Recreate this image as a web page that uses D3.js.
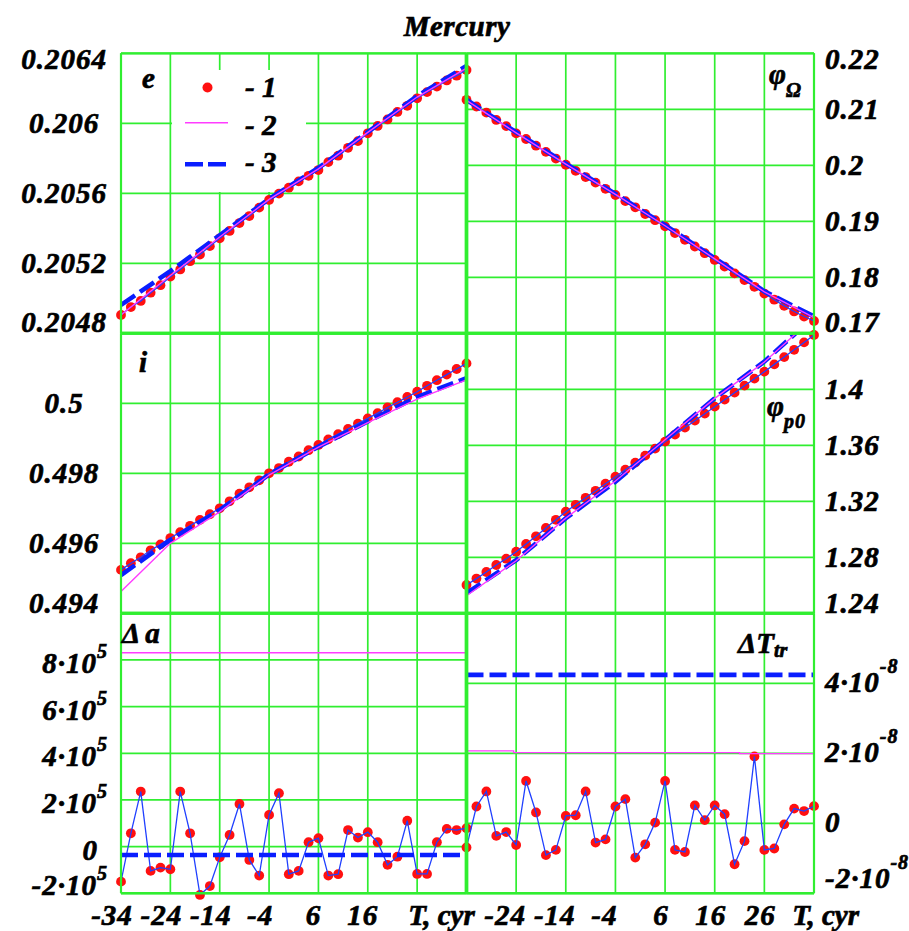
<!DOCTYPE html>
<html><head><meta charset="utf-8">
<script src="https://cdn.jsdelivr.net/npm/d3@7/dist/d3.min.js"></script>
<style>
html,body{margin:0;padding:0;background:#fff;}
svg{display:block;}
text{font-family:"Liberation Serif","Times New Roman",serif;font-weight:bold;font-style:italic;fill:#000;stroke:#000;stroke-width:0.7px;}
</style></head><body>
<svg id="chart" width="909" height="931"></svg>
<script>
// ---------------- data ----------------
const title = "Mercury";
const years = [-34,-32,-30,-28,-26,-24,-22,-20,-18,-16,-14,-12,-10,-8,-6,-4,-2,0,2,4,6,8,10,12,14,16,18,20,22,24,26,28,30,32,34,36];
const years10 = [-34,-24,-14,-4,6,16,26,36];

// eccentricity e
const e1 = [0.204905,0.204950,0.204985,0.205032,0.205075,0.205124,0.205165,0.205212,0.205250,0.205298,0.205343,0.205385,0.205430,0.205470,0.205518,0.205562,0.205598,0.205632,0.205668,0.205700,0.205733,0.205778,0.205815,0.205860,0.205898,0.205943,0.205985,0.206022,0.206065,0.206100,0.206143,0.206178,0.206210,0.206245,0.206272,0.206305];
const e2 = [0.204905,0.205130,0.205350,0.205565,0.205740,0.205948,0.206150,0.206315];
const e3 = [0.204962,0.205155,0.205360,0.205568,0.205745,0.205950,0.206155,0.206328];

// phi_Omega
const om1 = [0.2117,0.2105,0.2094,0.2081,0.2070,0.2057,0.2047,0.2035,0.2024,0.2012,0.2001,0.1990,0.1979,0.1969,0.1958,0.1947,0.1936,0.1925,0.1913,0.1902,0.1891,0.1879,0.1867,0.1855,0.1843,0.1831,0.1819,0.1807,0.1795,0.1783,0.1771,0.1760,0.1749,0.1739,0.1730,0.1722];
const om2 = [0.2116,0.2058,0.2002,0.1948,0.1892,0.1833,0.1774,0.1728];
const om3 = [0.2117,0.2059,0.2003,0.1949,0.1893,0.1834,0.1775,0.1730];

// inclination i
const i1 = [0.49524,0.49543,0.49560,0.49580,0.49597,0.49615,0.49632,0.49650,0.49667,0.49683,0.49700,0.49720,0.49742,0.49760,0.49780,0.49800,0.49815,0.49833,0.49848,0.49866,0.49881,0.49897,0.49912,0.49927,0.49942,0.49957,0.49972,0.49988,0.50003,0.50018,0.50033,0.50050,0.50066,0.50082,0.50098,0.50114];
const i2 = [0.49462,0.49600,0.49690,0.49795,0.49875,0.49945,0.50012,0.50067];
const i3 = [0.49509,0.49610,0.49695,0.49797,0.49876,0.49948,0.50018,0.50072];

// phi_p0
const p1 = [1.2602,1.2648,1.2695,1.2745,1.2790,1.2840,1.2895,1.2950,1.3010,1.3068,1.3126,1.3175,1.3225,1.3275,1.3326,1.3376,1.3426,1.3476,1.3526,1.3576,1.3626,1.3676,1.3726,1.3776,1.3826,1.3876,1.3926,1.3976,1.4026,1.4076,1.4126,1.4178,1.4230,1.4282,1.4335,1.4388];
const p2 = [1.2525,1.2775,1.3080,1.3345,1.3640,1.3935,1.4195,1.4515];
const p3 = [1.2543,1.2780,1.3079,1.3340,1.3638,1.3936,1.4198,1.4520];

// Delta a
const da1 = [-150000,57000,236000,-104000,-90000,-97000,236000,57000,-207000,-169000,-46000,50000,183000,-57000,-124000,136000,229000,-118000,-104000,19000,36000,-124000,-118000,71000,39000,62000,19000,-78000,-43000,111000,-117000,-117000,19000,76000,71000,79000];
const da2 = [831000,831000,831000,831000,831000,831000,831000,831000];
const da3 = [-35700,-35700,-35700,-35700,-35700,-35700,-35700,-35700];

// Delta T_tr
const dt1 = [-0.69e-8,0.48e-8,0.91e-8,-0.36e-8,-0.25e-8,-0.62e-8,1.21e-8,0.31e-8,-0.91e-8,-0.76e-8,0.21e-8,0.23e-8,0.91e-8,-0.55e-8,-0.46e-8,0.48e-8,0.69e-8,-0.98e-8,-0.60e-8,0.02e-8,1.21e-8,-0.76e-8,-0.82e-8,0.51e-8,0.09e-8,0.51e-8,0.26e-8,-1.17e-8,-0.51e-8,1.91e-8,-0.76e-8,-0.72e-8,-0.03e-8,0.42e-8,0.35e-8,0.49e-8];
const dt2Years = [-34,-24.5,-24.5,21,21,36];
const dt2 = [2.07e-8,2.07e-8,2.02e-8,2.02e-8,1.99e-8,1.99e-8];
const dt3 = [4.24e-8,4.24e-8,4.24e-8,4.24e-8,4.24e-8,4.24e-8,4.24e-8,4.24e-8];

// grids and tick labels
const xGrid = [-34,-24,-14,-4,6,16,26,36];
const xLabelsLeft = ["-34","-24","-14","-4","6","16"];
const xLabelsRight = ["-24","-14","-4","6","16","26"];
const xTitle = "T, cyr";

const eGrid = [0.2048,0.2052,0.2056,0.206,0.2064];
const eLabels = ["0.2048","0.2052","0.2056","0.206","0.2064"];
const omGrid = [0.17,0.18,0.19,0.2,0.21,0.22];
const omLabels = ["0.17","0.18","0.19","0.2","0.21","0.22"];
const iGrid = [0.494,0.496,0.498,0.5,0.502];
const iLabels = ["0.494","0.496","0.498","0.5"];
const pGrid = [1.24,1.28,1.32,1.36,1.4,1.44];
const pLabels = ["1.24","1.28","1.32","1.36","1.4"];
const daGrid = [-2e5,0,2e5,4e5,6e5,8e5,1e6];
const daMant = ["-2","0","2","4","6","8"];
const daExp = "5";
const dtGrid = [-2e-8,0,2e-8,4e-8,6e-8];
const dtMant = ["-2","0","2","4"];
const dtExp = "-8";

const legendLabels = ["- 1","- 2","- 3"];

// ---------------- drawing ----------------
const svg = d3.select("#chart");
const FS = 29;
const GREEN = "#30ee30", RED = "#ff1010", MAG = "#ff3cff", BLUE = "#0a1eff", THIN = "#2040ff";
const colX = [[121,466.5],[466.5,814]];
const rowY = [[53.3,333.3],[333.3,613.3],[613.3,893.3]];

svg.append("text").attr("x",457).attr("y",36).attr("text-anchor","middle")
  .attr("font-size",FS).attr("letter-spacing",0.5).text(title);

const panels = [
  {c:0,r:0,dom:[0.2048,0.2064],grid:eGrid,labels:eLabels.map(s=>({m:s})),s1:e1,s2:[years10,e2],s3:[years10,e3],off:10,kb:1},
  {c:1,r:0,dom:[0.17,0.22],grid:omGrid,labels:omLabels.map(s=>({m:s})),s1:om1,s2:[years10,om2],s3:[years10,om3],off:10,kb:1},
  {c:0,r:1,dom:[0.494,0.502],grid:iGrid,labels:iLabels.map(s=>({m:s})),s1:i1,s2:[years10,i2],s3:[years10,i3],off:10,kb:0},
  {c:1,r:1,dom:[1.24,1.44],grid:pGrid,labels:pLabels.map(s=>({m:s})),s1:p1,s2:[years10,p2],s3:[years10,p3],off:10,kb:0},
  {c:0,r:2,dom:[-2e5,1e6],grid:daGrid,labels:daMant.map(s=>({m:s,e:s==="0"?null:daExp})),s1:da1,s2:[years10,da2],s3:[years10,da3],off:13,kb:-2,supDy:-15},
  {c:1,r:2,dom:[-2e-8,6e-8],grid:dtGrid,labels:dtMant.map(s=>({m:s,e:s==="0"?null:dtExp})),s1:dt1,s2:[dt2Years,dt2],s3:[years10,dt3],off:9,kb:5,supDy:-19}
];

const gGrid = svg.append("g");
const gLegend = svg.append("g");
const gData = svg.append("g");
const gBorder = svg.append("g");
const gText = svg.append("g");

panels.forEach((p,k)=>{
  const [x0,x1] = colX[p.c], [y0,y1] = rowY[p.r];
  p.x = d3.scaleLinear().domain([-34,36]).range([x0,x1]);
  p.y = d3.scaleLinear().domain(p.dom).range([y1,y0]);
  // grid
  xGrid.forEach(v=>gGrid.append("line").attr("x1",p.x(v)).attr("x2",p.x(v)).attr("y1",y0).attr("y2",y1)
     .attr("stroke",GREEN).attr("stroke-width",1.7));
  p.grid.forEach(v=>gGrid.append("line").attr("x1",x0).attr("x2",x1).attr("y1",p.y(v)).attr("y2",p.y(v))
     .attr("stroke",GREEN).attr("stroke-width",1.7));
  // y labels
  p.labels.forEach((lb,j)=>{
    const v = p.grid[j];
    let base = p.y(v) + p.off;
    base = Math.max(y0+16, Math.min(y1 - p.kb, base));
    const t = gText.append("text").attr("y",base).attr("font-size",FS).attr("letter-spacing",1);
    if(p.c===0){
      if(lb.e){ t.attr("x",108).attr("text-anchor","end"); }
      else if(p.r===2){ t.attr("x",98).attr("text-anchor","end"); }
      else { t.attr("x",64).attr("text-anchor","middle"); }
    } else { t.attr("x",825).attr("text-anchor","start"); }
    if(lb.e){
      t.append("tspan").text(lb.m+"\u00B710");
      t.append("tspan").attr("dy",p.supDy).attr("font-size",20).text(lb.e);
    } else t.text(lb.m);
  });
  // clip
  const cid = "clip"+k;
  svg.append("clipPath").attr("id",cid).append("rect").attr("x",x0).attr("y",y0).attr("width",x1-x0).attr("height",y1-y0);
  const line = d3.line().x(d=>p.x(d[0])).y(d=>p.y(d[1]));
  const g = gData.append("g");
  const pts = years.map((yr,j)=>[yr,p.s1[j]]);
  // red dots
  g.selectAll("circle").data(pts).enter().append("circle")
    .attr("cx",d=>p.x(d[0])).attr("cy",d=>p.y(d[1])).attr("r",4.9).attr("fill",RED);
  // thin connecting line
  g.append("path").attr("d",line(pts)).attr("fill","none")
    .attr("stroke",THIN).attr("stroke-width",1.3).attr("clip-path",`url(#${cid})`);
  // series 3 dashed
  g.append("path").attr("d",line(p.s3[0].map((yr,j)=>[yr,p.s3[1][j]]))).attr("fill","none")
    .attr("stroke",BLUE).attr("stroke-width",4.6).attr("stroke-dasharray","17,6").attr("clip-path",`url(#${cid})`);
  // series 2 thin magenta
  g.append("path").attr("d",line(p.s2[0].map((yr,j)=>[yr,p.s2[1][j]]))).attr("fill","none")
    .attr("stroke",MAG).attr("stroke-width",1.4).attr("clip-path",`url(#${cid})`);
  // borders
  gBorder.append("line").attr("x1",x0).attr("x2",x1).attr("y1",y0).attr("y2",y0).attr("stroke",GREEN).attr("stroke-width",p.r===0?2.2:3);
  gBorder.append("line").attr("x1",x0).attr("x2",x1).attr("y1",y1).attr("y2",y1).attr("stroke",GREEN).attr("stroke-width",p.r===2?2.4:3);
  gBorder.append("line").attr("x1",x0).attr("x2",x0).attr("y1",y0).attr("y2",y1).attr("stroke",GREEN).attr("stroke-width",p.c===0?2.2:3.4);
  gBorder.append("line").attr("x1",x1).attr("x2",x1).attr("y1",y0).attr("y2",y1).attr("stroke",GREEN).attr("stroke-width",p.c===1?2.2:3.4);
});

// x labels
const pl = panels[4], pr = panels[5];
xLabelsLeft.forEach((s,j)=>{
  gText.append("text").attr("x",pl.x(xGrid[j]) - (s[0]==="-"?9:5)).attr("y",925).attr("text-anchor","middle")
    .attr("font-size",FS).attr("letter-spacing",1).text(s);
});
xLabelsRight.forEach((s,j)=>{
  gText.append("text").attr("x",pr.x(xGrid[j+1]) - (s[0]==="-"?11:4)).attr("y",925).attr("text-anchor","middle")
    .attr("font-size",FS).attr("letter-spacing",1).text(s);
});
gText.append("text").attr("x",pl.x(26)-9).attr("y",925).attr("font-size",FS).text(xTitle);
gText.append("text").attr("x",pr.x(26)+28).attr("y",925).attr("font-size",FS).text(xTitle);

// panel labels
gText.append("text").attr("x",142).attr("y",88).attr("font-size",FS).text("e");
gText.append("text").attr("x",139).attr("y",372).attr("font-size",FS).text("i");
const tOm = gText.append("text").attr("x",769).attr("y",84).attr("font-size",FS);
tOm.append("tspan").text("\u03C6");
tOm.append("tspan").attr("dy",13).attr("font-size",20).text("\u03A9");
const tP = gText.append("text").attr("x",767).attr("y",416).attr("font-size",FS);
tP.append("tspan").text("\u03C6");
tP.append("tspan").attr("dy",12).attr("font-size",20).attr("letter-spacing",1).text("p0");
const tA = gText.append("text").attr("x",122).attr("y",643).attr("font-size",FS);
tA.append("tspan").text("\u0394");
tA.append("tspan").attr("dx",5).text("a");
const tT = gText.append("text").attr("x",738).attr("y",653).attr("font-size",FS);
tT.append("tspan").text("\u0394T");
tT.append("tspan").attr("dy",4).attr("font-size",20).text("tr");

// legend
gLegend.append("rect").attr("x",172).attr("y",70).attr("width",134).attr("height",122).attr("fill","#fff");
gLegend.append("circle").attr("cx",207.5).attr("cy",87.5).attr("r",5).attr("fill",RED);
gLegend.append("line").attr("x1",185).attr("x2",228).attr("y1",122.7).attr("y2",122.7).attr("stroke",MAG).attr("stroke-width",1.4);
gLegend.append("line").attr("x1",185).attr("x2",227).attr("y1",164.3).attr("y2",164.3).attr("stroke",BLUE).attr("stroke-width",4.6).attr("stroke-dasharray","18,5");
[97,135,172].forEach((yy,j)=>gLegend.append("text").attr("x",245).attr("y",yy).attr("font-size",FS).text(legendLabels[j]));
</script>
</body></html>
